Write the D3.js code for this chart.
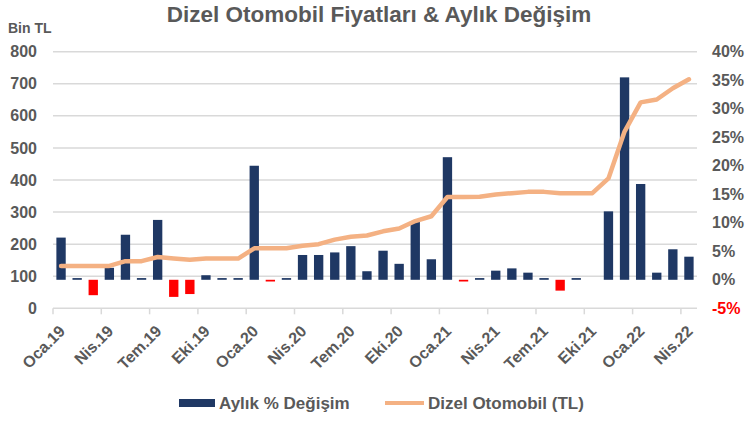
<!DOCTYPE html>
<html lang="tr">
<head>
<meta charset="utf-8">
<script src="https://cdn.jsdelivr.net/npm/d3@7"></script>
<style>
  html, body { margin: 0; padding: 0; background: #ffffff; }
  svg { display: block; font-family: "Liberation Sans", Arial, sans-serif; font-weight: bold; }
</style>
</head>
<body>
<svg id="chart" width="752" height="421"></svg>
<script>
// Monthly categories, Jan 2019 – Apr 2022
const months = [
  "Oca.19","Şub.19","Mar.19","Nis.19","May.19","Haz.19","Tem.19","Ağu.19","Eyl.19","Eki.19","Kas.19","Ara.19",
  "Oca.20","Şub.20","Mar.20","Nis.20","May.20","Haz.20","Tem.20","Ağu.20","Eyl.20","Eki.20","Kas.20","Ara.20",
  "Oca.21","Şub.21","Mar.21","Nis.21","May.21","Haz.21","Tem.21","Ağu.21","Eyl.21","Eki.21","Kas.21","Ara.21",
  "Oca.22","Şub.22","Mar.22","Nis.22"
];

// Monthly % change (right axis)
const monthlyChange = [
  7.4, 0.3, -2.7, 2.1, 7.9, 0.3, 10.5, -3.0, -2.5, 0.8, 0.3, 0.3,
  20.0, -0.3, 0.3, 4.35, 4.35, 4.8, 5.9, 1.5, 5.1, 2.8, 10.2, 3.6,
  21.5, -0.3, 0.3, 1.6, 2.0, 1.25, 0.3, -1.9, 0.3, 0, 12.0, 35.5,
  16.8, 1.25, 5.35, 4.05
];

// Diesel car price, thousand TL (left axis)
const dieselPrice = [
  132, 132, 132, 132, 147, 147, 160, 155, 151, 155, 155, 155,
  187, 187, 187, 195, 200, 214, 223, 227, 240, 249, 272, 287,
  347, 347, 348, 355, 359, 363, 363, 359, 359, 359, 405, 551,
  642, 651, 686, 714
];

const leftTicks = [0, 100, 200, 300, 400, 500, 600, 700, 800];
const rightTicks = [-5, 0, 5, 10, 15, 20, 25, 30, 35, 40];
const labelEvery = 3;

const titleText = "Dizel Otomobil Fiyatları & Aylık Değişim";
const unitText = "Bin TL";
const legendBars = "Aylık % Değişim";
const legendLine = "Dizel Otomobil (TL)";

const textGray = "#595959";
const gridGray = "#d9d9d9";
const navy = "#1f3864";
const red = "#ff0000";
const orange = "#f4b183";

const svg = d3.select("#chart");

const plotLeft = 53, plotRight = 697, plotTop = 51.7, plotBottom = 308.3;

const x = d3.scaleBand().domain(months).range([plotLeft, plotRight])
  .paddingInner(0.42).paddingOuter(0.21);
const yL = d3.scaleLinear().domain([0, 800]).range([plotBottom, plotTop]);
const yR = d3.scaleLinear().domain([-5, 40]).range([plotBottom, plotTop]);
const step = x.step();
const boundary = d => x(d) - (step - x.bandwidth()) / 2;

// Horizontal gridlines on the left-axis values
svg.append("g").selectAll("line").data(leftTicks.filter(t => t > 0)).join("line")
  .attr("x1", plotLeft).attr("x2", plotRight)
  .attr("y1", d => yL(d)).attr("y2", d => yL(d))
  .attr("stroke", gridGray).attr("stroke-width", 1.5);

// Category axis line and tick marks
svg.append("line")
  .attr("x1", plotLeft).attr("x2", plotRight)
  .attr("y1", yL(0)).attr("y2", yL(0))
  .attr("stroke", gridGray).attr("stroke-width", 1.5);

const shown = months.filter((d, i) => i % labelEvery === 0);
svg.append("g").selectAll("line").data(shown).join("line")
  .attr("x1", d => boundary(d)).attr("x2", d => boundary(d))
  .attr("y1", yL(0)).attr("y2", yL(0) + 6)
  .attr("stroke", gridGray).attr("stroke-width", 1.5);

// Bars: monthly % change
svg.append("g").selectAll("rect").data(monthlyChange.map((v, i) => ({ m: months[i], v })))
  .join("rect")
  .attr("x", d => x(d.m))
  .attr("width", x.bandwidth())
  .attr("y", d => Math.min(yR(d.v), yR(0)))
  .attr("height", d => Math.abs(yR(d.v) - yR(0)))
  .attr("fill", d => d.v < 0 ? red : navy);

// Price line
const line = d3.line()
  .x((d, i) => x(months[i]) + x.bandwidth() / 2)
  .y(d => yL(d));
svg.append("path").datum(dieselPrice)
  .attr("d", line)
  .attr("fill", "none")
  .attr("stroke", orange)
  .attr("stroke-width", 4.5)
  .attr("stroke-linejoin", "round")
  .attr("stroke-linecap", "round");

// Left axis labels
svg.append("g").selectAll("text").data(leftTicks).join("text")
  .attr("x", 37).attr("y", d => yL(d))
  .attr("dy", "0.35em")
  .attr("text-anchor", "end")
  .attr("font-size", 16)
  .attr("fill", textGray)
  .text(d => d);

// Right axis labels
svg.append("g").selectAll("text").data(rightTicks).join("text")
  .attr("x", 712).attr("y", d => yR(d))
  .attr("dy", "0.35em")
  .attr("font-size", 16)
  .attr("fill", d => d < 0 ? red : textGray)
  .text(d => d + "%");

// Category labels, rotated
svg.append("g").selectAll("text").data(shown).join("text")
  .attr("transform", d => `translate(${x(d) + x.bandwidth() / 2 + 1},${yL(0) + 20}) rotate(-45)`)
  .attr("text-anchor", "end")
  .attr("dy", "0.35em")
  .attr("font-size", 16)
  .attr("fill", textGray)
  .text(d => d);

// Title and unit
svg.append("text")
  .attr("x", 379).attr("y", 22)
  .attr("text-anchor", "middle")
  .attr("font-size", 22.5)
  .attr("fill", textGray)
  .text(titleText);

svg.append("text")
  .attr("x", 8).attr("y", 33)
  .attr("font-size", 14)
  .attr("fill", textGray)
  .text(unitText);

// Legend
const lg = svg.append("g");
lg.append("rect").attr("x", 179).attr("y", 399).attr("width", 36).attr("height", 8).attr("fill", navy);
lg.append("text").attr("x", 219).attr("y", 403).attr("dy", "0.35em")
  .attr("font-size", 17).attr("fill", textGray).text(legendBars);
lg.append("line").attr("x1", 385).attr("x2", 424).attr("y1", 403).attr("y2", 403)
  .attr("stroke", orange).attr("stroke-width", 4);
lg.append("text").attr("x", 428).attr("y", 403).attr("dy", "0.35em")
  .attr("font-size", 17).attr("fill", textGray).text(legendLine);
</script>
</body>
</html>
